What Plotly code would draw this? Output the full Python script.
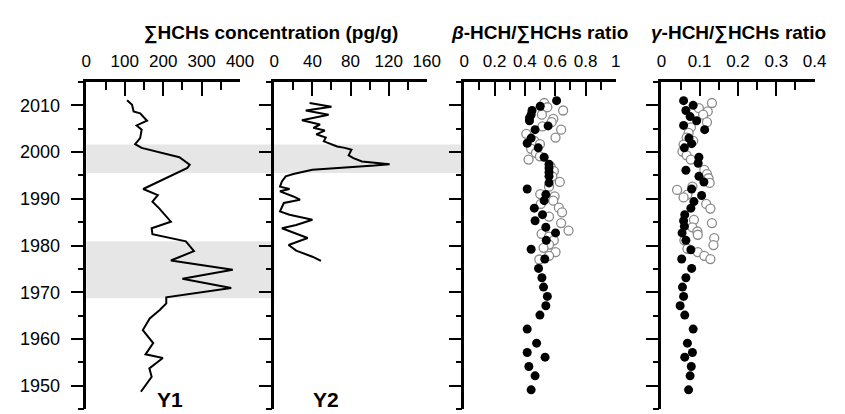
import plotly.graph_objects as go

# ---------------- data ----------------
# Panel Y1: sum HCHs concentration (pg/g)
y1_year = [2011.1, 2010.1, 2008.7, 2008.3, 2006.7, 2005.7, 2004.8, 2003.0, 2001.7, 2000.9,
           1998.9, 1997.3, 1996.6, 1994.8, 1992.1, 1990.8, 1989.4, 1988.0, 1985.1, 1983.7,
           1982.4, 1980.9, 1978.8, 1976.8, 1974.8, 1972.9, 1970.9, 1968.9, 1967.6, 1966.2,
           1964.4, 1961.9, 1959.1, 1956.7, 1955.9, 1953.7, 1951.9, 1948.7]
y1_conc = [106, 119, 123, 140, 158, 131, 144, 140, 127, 144,
           242, 269, 263, 216, 148, 186, 172, 189, 220, 170,
           172, 259, 280, 220, 381, 250, 377, 208, 208, 191,
           165, 147, 174, 154, 199, 164, 170, 142]

# Panel Y2: sum HCHs concentration (pg/g)
y2_year = [2010.5, 2009.7, 2008.9, 2008.0, 2006.8, 2005.9, 2005.2, 2004.6, 2003.8, 2003.1,
           2002.3, 2001.2, 2000.9, 2000.5, 1999.3, 1998.7, 1998.0, 1997.6, 1997.4, 1997.1,
           1996.7, 1996.2, 1995.3, 1994.8, 1993.7, 1992.6, 1992.1, 1991.6, 1990.5, 1989.8,
           1989.1, 1987.3, 1986.6, 1985.5, 1984.4, 1983.7, 1981.6, 1980.1, 1978.9, 1977.6,
           1976.7]
y2_conc = [37, 60, 33, 57, 29, 48, 41, 53, 44, 54,
           52, 66, 74, 81, 78, 83, 92, 109, 121, 105,
           75, 40, 20, 12, 8, 6, 16, 6, 20, 27,
           10, 6, 16, 40, 23, 8, 35, 15, 23, 40,
           49]

# beta-HCH / sum HCHs ratio
beta_y1_year = [2011.0, 2009.8, 2008.9, 2008.0, 2007.3, 2006.7, 2005.6, 2004.8, 2003.0, 2001.9,
                2000.9, 1998.9, 1997.4, 1996.6, 1995.7, 1994.8, 1993.4, 1992.1, 1990.9, 1989.6,
                1988.0, 1986.6, 1985.3, 1983.9, 1982.7, 1981.1, 1979.2, 1977.1, 1975.1, 1973.1,
                1971.1, 1969.1, 1967.1, 1965.1, 1962.1, 1959.1, 1957.1, 1956.1, 1954.1, 1952.1,
                1949.1]
beta_y1 = [0.609, 0.501, 0.447, 0.441, 0.430, 0.430, 0.553, 0.467, 0.441, 0.415,
           0.488, 0.527, 0.559, 0.559, 0.559, 0.559, 0.559, 0.415, 0.538, 0.527,
           0.462, 0.516, 0.467, 0.538, 0.602, 0.541, 0.441, 0.531, 0.490, 0.512,
           0.523, 0.548, 0.538, 0.499, 0.415, 0.477, 0.415, 0.533, 0.426, 0.467,
           0.441]
beta_y2_year = [2010.5, 2009.6, 2008.9, 2008.0, 2007.1, 2006.4, 2005.5, 2004.8, 2003.9, 2003.1,
                2002.4, 2001.7, 2000.7, 1999.8, 1999.1, 1998.4, 1996.9, 1995.9, 1994.8, 1993.6,
                1992.6, 1991.0, 1990.5, 1989.6, 1988.9, 1988.1, 1987.1, 1986.2, 1984.8, 1983.2,
                1982.5, 1981.9, 1981.1, 1980.2, 1979.5, 1978.6, 1977.8, 1977.0]
beta_y2 = [0.527, 0.548, 0.652, 0.512, 0.587, 0.576, 0.516, 0.639, 0.409, 0.602,
           0.462, 0.499, 0.441, 0.473, 0.499, 0.424, 0.570, 0.591, 0.581, 0.630,
           0.559, 0.501, 0.596, 0.587, 0.505, 0.624, 0.645, 0.559, 0.639, 0.688,
           0.510, 0.559, 0.591, 0.559, 0.523, 0.602, 0.559, 0.495]

# gamma-HCH / sum HCHs ratio
gamma_y1_year = [2011.0, 2010.0, 2008.9, 2007.6, 2006.7, 2005.7, 2004.8, 2003.0, 2001.8, 2000.9,
                 1998.9, 1997.6, 1996.1, 1994.8, 1993.6, 1992.1, 1990.7, 1989.4, 1988.0, 1986.6,
                 1985.3, 1984.1, 1982.7, 1981.1, 1979.1, 1977.1, 1975.1, 1973.1, 1971.1, 1969.1,
                 1967.1, 1965.1, 1962.1, 1959.1, 1957.1, 1956.1, 1954.1, 1952.1, 1949.1]
gamma_y1 = [0.058, 0.083, 0.064, 0.075, 0.092, 0.058, 0.113, 0.072, 0.079, 0.060,
            0.098, 0.096, 0.064, 0.098, 0.111, 0.079, 0.105, 0.085, 0.077, 0.061,
            0.058, 0.060, 0.054, 0.064, 0.077, 0.053, 0.079, 0.064, 0.055, 0.058,
            0.049, 0.061, 0.083, 0.068, 0.081, 0.061, 0.078, 0.075, 0.071]
gamma_y2_year = [2010.5, 2009.4, 2008.7, 2008.0, 2006.4, 2005.3, 2004.1, 2003.1, 2002.4, 2001.6,
                 2000.1, 1999.3, 1998.4, 1996.2, 1995.3, 1994.4, 1993.4, 1992.6, 1991.9, 1990.9,
                 1990.3, 1988.9, 1987.9, 1985.5, 1984.8, 1983.9, 1983.0, 1982.3, 1981.6, 1981.1,
                 1980.1, 1979.3, 1978.6, 1977.8, 1977.1]
gamma_y2 = [0.132, 0.098, 0.121, 0.109, 0.119, 0.077, 0.071, 0.066, 0.083, 0.058,
            0.055, 0.066, 0.077, 0.112, 0.119, 0.123, 0.126, 0.081, 0.041, 0.068,
            0.058, 0.117, 0.128, 0.085, 0.132, 0.081, 0.094, 0.095, 0.138, 0.060,
            0.136, 0.068, 0.095, 0.112, 0.128]

# shaded periods (years)
band_years = [(1995.5, 2001.6), (1968.7, 1980.9)]

titles = ["<b>∑HCHs concentration (pg/g)</b>",
          "<b><i>β</i>-HCH/∑HCHs ratio</b>",
          "<b><i>γ</i>-HCH/∑HCHs ratio</b>"]
panel_labels = ["<b>Y1</b>", "<b>Y2</b>"]

# ---------------- layout geometry ----------------
W, H = 845, 414
def px(x):
    return x / W
def py(y):
    return 1 - y / H

x_doms = [(75, 232.3), (267.3, 423.3), (461.7, 616.7), (663.3, 820)]
y_dom = [py(401), py(74)]

FONT = "Arial, Liberation Sans, sans-serif"

fig = go.Figure()

fig.add_trace(go.Scatter(x=y1_conc, y=y1_year, mode="lines",
                         line=dict(color="black", width=2), xaxis="x", yaxis="y"))
fig.add_trace(go.Scatter(x=y2_conc, y=y2_year, mode="lines",
                         line=dict(color="black", width=2), xaxis="x2", yaxis="y2"))

open_marker = dict(symbol="circle", size=9, color="white",
                   line=dict(color="#8a8a8a", width=1.3))
fill_marker = dict(symbol="circle", size=9, color="black",
                   line=dict(color="black", width=0))

fig.add_trace(go.Scatter(x=beta_y2, y=beta_y2_year, mode="markers",
                         marker=open_marker, xaxis="x3", yaxis="y3"))
fig.add_trace(go.Scatter(x=beta_y1, y=beta_y1_year, mode="markers",
                         marker=fill_marker, xaxis="x3", yaxis="y3"))
fig.add_trace(go.Scatter(x=gamma_y2, y=gamma_y2_year, mode="markers",
                         marker=open_marker, xaxis="x4", yaxis="y4"))
fig.add_trace(go.Scatter(x=gamma_y1, y=gamma_y1_year, mode="markers",
                         marker=fill_marker, xaxis="x4", yaxis="y4"))

x_ranges = [(0, 400), (0, 160), (0, 1), (0, 0.4)]
x_dticks = [100, 40, 0.2, 0.1]

layout = dict(width=W, height=H, margin=dict(l=0, r=0, t=0, b=0),
              paper_bgcolor="white", plot_bgcolor="rgba(0,0,0,0)",
              showlegend=False, font=dict(family=FONT, color="black", size=17))

for i in range(4):
    sx = "" if i == 0 else str(i + 1)
    layout["xaxis" + sx] = dict(
        domain=[px(x_doms[i][0]), px(x_doms[i][1])], range=list(x_ranges[i]),
        anchor="y" + sx, side="top", showline=True, linecolor="black", linewidth=2.5,
        ticks="inside", ticklen=14, tickwidth=2, tickcolor="black",
        dtick=x_dticks[i], tick0=0, showgrid=False, zeroline=False,
        tickfont=dict(size=17, family=FONT), ticklabelstandoff=5,
        minor=dict(ticks="inside", ticklen=8, tickwidth=2, tickcolor="black",
                   dtick=x_dticks[i] / 2, tick0=0, showgrid=False),
    )
    layout["yaxis" + sx] = dict(
        domain=y_dom, range=[1945, 2015], anchor="x" + sx,
        showline=True, linecolor="black", linewidth=2.5,
        ticks="outside", ticklen=13, tickwidth=2, tickcolor="black",
        dtick=10, tick0=1950, showgrid=False, zeroline=False,
        showticklabels=(i == 0), tickfont=dict(size=18, family=FONT),
        ticklabelstandoff=7,
        minor=dict(ticks="outside", ticklen=6, tickwidth=2, tickcolor="black",
                   dtick=5, tick0=1945, showgrid=False),
    )

fig.update_layout(**layout)

# shaded bands
band_x = [(75, 461.7), (75, 267.3)]
for (y0, y1), (bx0, bx1) in zip(band_years, band_x):
    fig.add_shape(type="rect", xref="paper", yref="y", x0=px(bx0), x1=px(bx1),
                  y0=y0, y1=y1, fillcolor="#e6e6e6", line=dict(width=0), layer="below")

# titles
for txt, cx in zip(titles, [264, 539, 742]):
    fig.add_annotation(text=txt, xref="paper", yref="paper", x=px(cx), y=py(25),
                       xanchor="center", yanchor="middle", showarrow=False,
                       font=dict(size=19, family=FONT, color="black"))

for txt, cx in zip(panel_labels, [161, 320]):
    fig.add_annotation(text=txt, xref="paper", yref="paper", x=px(cx), y=py(405),
                       xanchor="center", yanchor="bottom", showarrow=False,
                       font=dict(size=21, family=FONT, color="black"))

fig.write_html("out.html")
